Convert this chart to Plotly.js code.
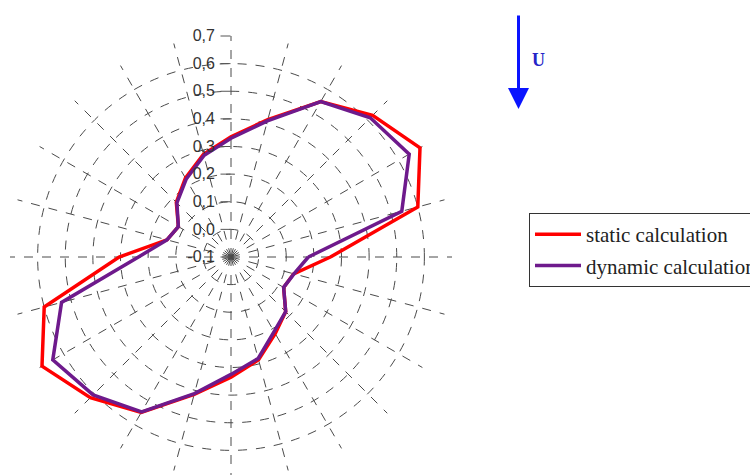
<!DOCTYPE html>
<html>
<head>
<meta charset="utf-8">
<script src="https://cdn.plot.ly/plotly-3.0.1.min.js"></script>
<style>
html,body{margin:0;padding:0;overflow:hidden;background:#fff;width:750px;height:475px;}
#chart{width:770px;height:478px;}
</style>
</head>
<body>
<div id="chart"></div>
<script>
// Angles (degrees, counterclockwise from east)
const angles = [0,15,30,45,60,75,90,105,120,135,150,165,180,195,210,225,240,255,270,285,300,315,330,345,360];
// static calculation
const staticValues = [0.26,0.60,0.69,0.625,0.55,0.415,0.335,0.285,0.23,0.18,0.12,0.14,0.305,0.60,0.69,0.62,0.55,0.415,0.335,0.285,0.22,0.18,0.12,0.135,0.26];
// dynamic calculation
const dynamicValues = [0.18,0.54,0.645,0.613,0.55,0.41,0.33,0.28,0.225,0.177,0.12,0.14,0.235,0.535,0.645,0.606,0.547,0.412,0.325,0.28,0.212,0.18,0.12,0.136,0.18];
// radial ticks
const radialTickVals = [-0.1,0.0,0.1,0.2,0.3,0.4,0.5,0.6,0.7];
const radialTickText = ['-0,1','0,0','0,1','0,2','0,3','0,4','0,5','0,6','0,7'];
const seriesNames = ['static calculation','dynamic calculation'];

const W = 770, H = 478;
const serif = 'Liberation Serif';
const traces = [
  {type:'scatterpolar', mode:'lines', r:staticValues, theta:angles, name:seriesNames[0],
   line:{color:'#ff0000', width:3.5}, legendgroup:'a'},
  {type:'scatterpolar', mode:'lines', r:dynamicValues, theta:angles, name:seriesNames[1],
   line:{color:'#6e1a8c', width:3.5}, legendgroup:'b'}
];
const layout = {
  width:W, height:H,
  margin:{l:0,r:0,t:0,b:0},
  paper_bgcolor:'#fff',
  showlegend:true,
  font:{family:serif},
  legend:{x:529/W, y:(H-213)/H, xanchor:'left', yanchor:'top',
    bordercolor:'#333', borderwidth:1, bgcolor:'#fff',
    font:{family:serif, size:21, color:'#222'},
    itemwidth:46, tracegroupgap:1},
  polar:{
    domain:{x:[10/W, 452/W], y:[0, (H-36)/H]},
    bgcolor:'#fff',
    radialaxis:{range:[-0.1,0.7], tickvals:radialTickVals, ticktext:radialTickText,
      angle:90, side:'counterclockwise', tickangle:90,
      showline:false, ticks:'outside', ticklen:10, tickcolor:'#555',
      gridcolor:'#4a4a4a', griddash:'dash', gridwidth:1,
      tickfont:{family:'Liberation Sans', size:16, color:'#333'}},
    angularaxis:{rotation:0, direction:'counterclockwise', dtick:15,
      showticklabels:false, ticks:'', showline:false,
      gridcolor:'#4a4a4a', griddash:'dash', gridwidth:1}
  },
  annotations:[
    {xref:'paper', yref:'paper', x:518.5/W, y:(H-109)/H, ax:0, ay:-95, axref:'pixel', ayref:'pixel',
     showarrow:true, arrowhead:2, arrowsize:1.4, arrowwidth:3, arrowcolor:'#0a14ff', text:''},
    {xref:'paper', yref:'paper', x:530/W, y:(H-60)/H, xanchor:'left', yanchor:'middle',
     text:'<b>U</b>', showarrow:false,
     font:{family:serif, size:18, color:'#2424c8'}}
  ]
};
Plotly.newPlot('chart', traces, layout, {displayModeBar:false, staticPlot:true});
</script>
</body>
</html>
